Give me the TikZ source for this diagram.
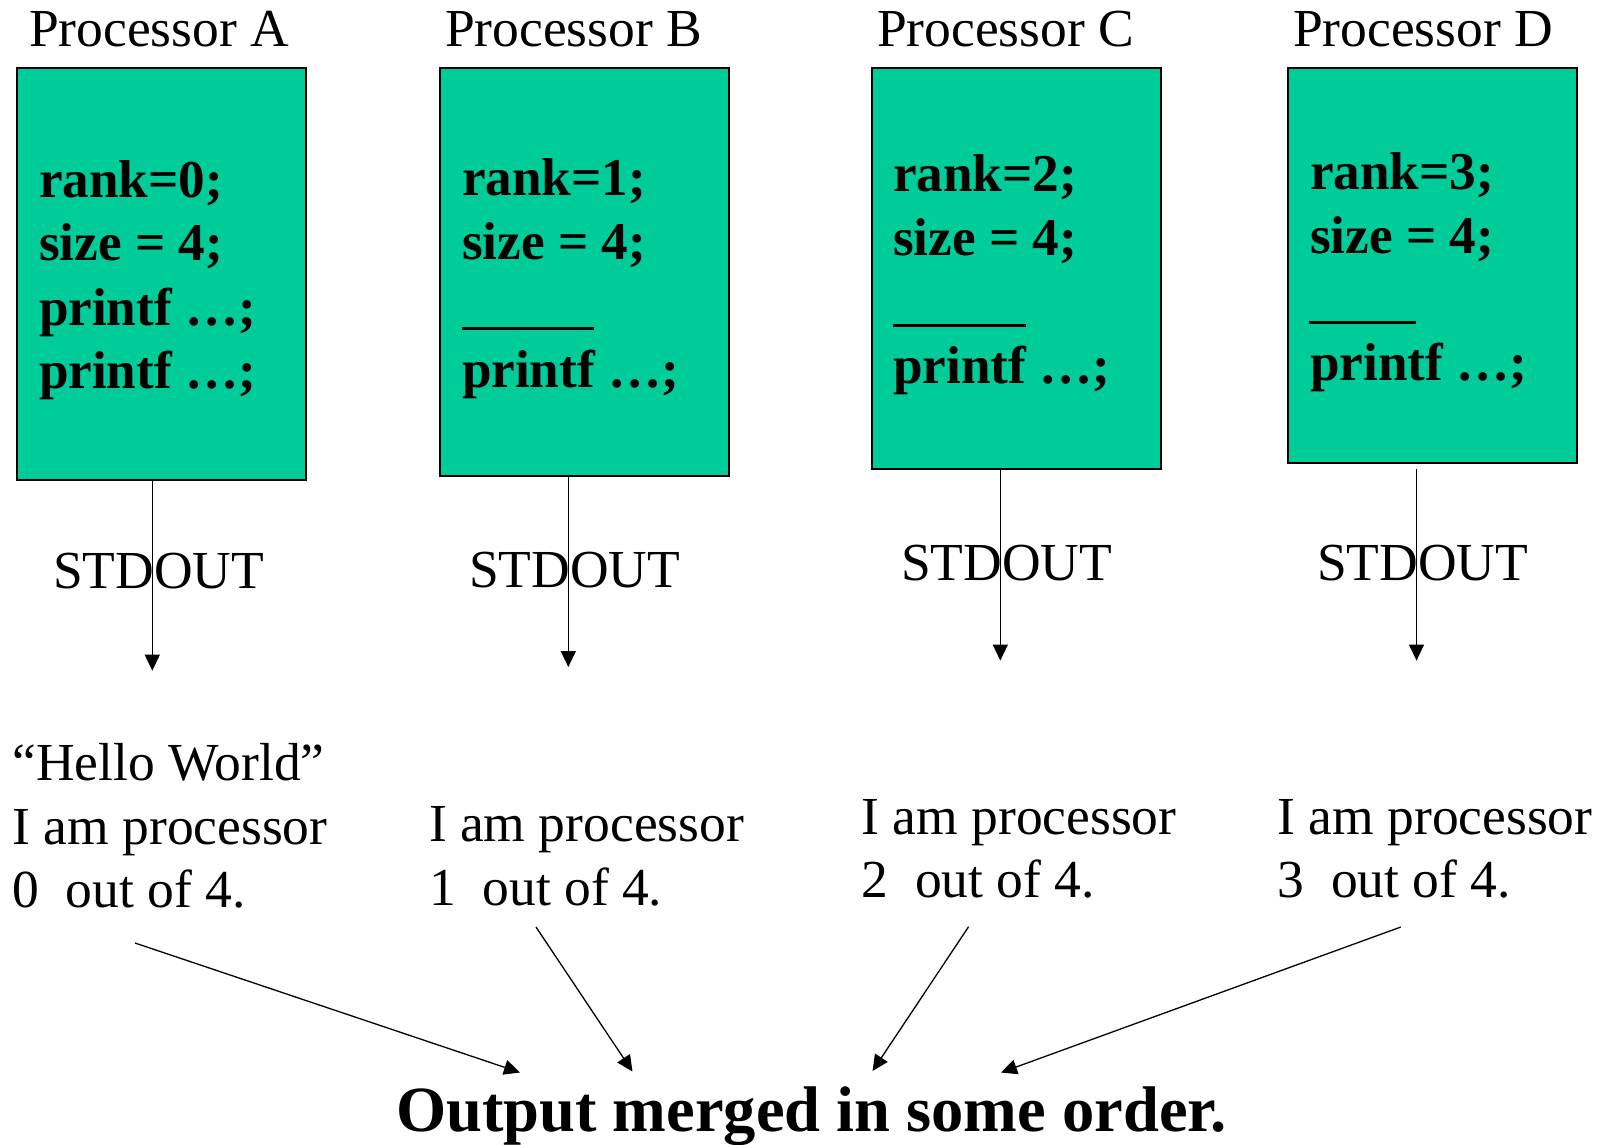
\documentclass[tikz,border=0pt]{standalone}
\usepackage{fontspec}
\setmainfont{Liberation Serif}
\usetikzlibrary{arrows.meta}
\definecolor{procgreen}{HTML}{00CC99}
\begin{document}
\begin{tikzpicture}[x=1pt,y=-1pt,
  pbox/.style={draw=black,fill=procgreen,line width=1.5pt,inner sep=0pt,outer sep=0pt,anchor=north west,minimum width=289pt},
  txt/.style={inner sep=0pt,outer sep=0pt,anchor=base west,font=\fontsize{53.5}{60}\selectfont},
  code/.style={txt,font=\fontsize{53.2}{60}\selectfont\bfseries},
  arr/.style={line width=1.3pt,-{Triangle[length=16pt,width=15pt]}},
  gap/.style={line width=3pt}]
\useasboundingbox (0,0) rectangle (1606,1144);

% processor headings
\node[txt] (hA) at (29,46)  {Processor A};
\node[txt] (hB) at (445,46) {Processor B};
\node[txt] (hC) at (877,46) {Processor C};
\node[txt] (hD) at (1293,46) {Processor D};

% processor boxes
\node[pbox,minimum height=412pt] (boxA) at (17,68)   {};
\node[pbox,minimum height=408pt] (boxB) at (440,68)  {};
\node[pbox,minimum height=401pt] (boxC) at (872,68)  {};
\node[pbox,minimum height=395pt] (boxD) at (1288,68) {};

% code in each box
\node[code] (a1) at (39,197) {rank=0;};
\node[code] (a2) at (39,260) {size = 4;};
\node[code] (a3) at (39,325) {printf …;};
\node[code] (a4) at (39,388) {printf …;};

\node[code] (b1) at (462,195) {rank=1;};
\node[code] (b2) at (462,259) {size = 4;};
\draw[gap] (462,328) -- (594,328);
\node[code] (b4) at (462,387) {printf …;};

\node[code] (c1) at (893,191) {rank=2;};
\node[code] (c2) at (893,255) {size = 4;};
\draw[gap] (893,325) -- (1026,325);
\node[code] (c4) at (893,383) {printf …;};

\node[code] (d1) at (1310,189) {rank=3;};
\node[code] (d2) at (1310,253) {size = 4;};
\draw[gap] (1309,322) -- (1416,322);
\node[code] (d4) at (1310,380) {printf …;};

% stdout arrows
\coordinate (tA) at (152.3,670.7);
\coordinate (tB) at (568.3,667);
\coordinate (tC) at (1000.3,660.6);
\coordinate (sD) at (1416.5,469);
\coordinate (tD) at (1416.5,660.6);
\draw[arr] (boxA.south -| tA) -- (tA);
\draw[arr] (boxB.south -| tB) -- (tB);
\draw[arr] (boxC.south -| tC) -- (tC);
\draw[arr] (sD) -- (tD);

\node[txt] (oA) at (53,588)   {STDOUT};
\node[txt] (oB) at (469,587)  {STDOUT};
\node[txt] (oC) at (901,580)  {STDOUT};
\node[txt] (oD) at (1317,580) {STDOUT};

% printed output of each processor
\node[txt] (pA0) at (12.5,780)  {“Hello World”};
\node[txt] (pA1) at (12.5,844)  {I am processor};
\node[txt] (pA2) at (12.5,907.7) {0\ \ out of 4.};

\node[txt] (pB1) at (429,841) {I am processor};
\node[txt] (pB2) at (429,905) {1\ \ out of 4.};

\node[txt] (pC1) at (861.5,834)  {I am processor};
\node[txt] (pC2) at (861.5,897.7) {2\ \ out of 4.};

\node[txt] (pD1) at (1277.5,834)  {I am processor};
\node[txt] (pD2) at (1277.5,897.7) {3\ \ out of 4.};

% merged output
\node[txt,font=\fontsize{64.5}{72}\selectfont\bfseries] (merged) at (396,1131.7) {Output merged in some order.};

\coordinate (mA) at (135,943);
\coordinate (eA) at (520,1072.5);
\coordinate (mB) at (536,927);
\coordinate (eB) at (632.5,1071.5);
\coordinate (mC) at (968.6,926.7);
\coordinate (eC) at (872.5,1071);
\coordinate (mD) at (1400.8,927);
\coordinate (eD) at (1001,1072.5);
\draw[arr] (mA) -- (eA);
\draw[arr] (mB) -- (eB);
\draw[arr] (mC) -- (eC);
\draw[arr] (mD) -- (eD);
\end{tikzpicture}
\end{document}
